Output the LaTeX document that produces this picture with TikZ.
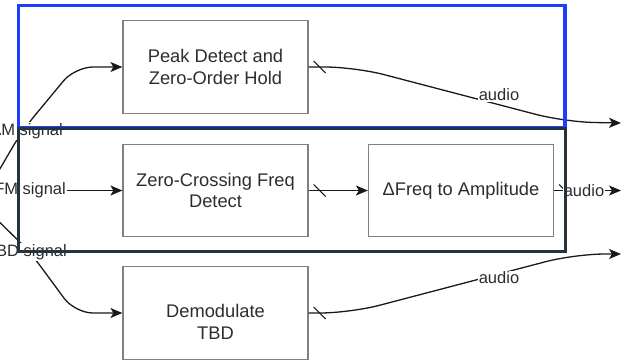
\documentclass[tikz,border=0pt]{standalone}
\usepackage{fontspec}
\setmainfont{Liberation Sans}
\usetikzlibrary{arrows.meta,calc}

\definecolor{frameblue}{RGB}{31,60,255}
\definecolor{frameslate}{RGB}{35,52,62}
\definecolor{boxgray}{RGB}{128,128,128}
\definecolor{inkgray}{RGB}{45,45,45}
\definecolor{wiregray}{RGB}{25,25,25}

\begin{document}
\begin{tikzpicture}[x=1bp,y=-1bp,
  blockbox/.style={draw=boxgray, line width=1.2bp, minimum width=185bp,
    minimum height=92.5bp, align=center, text=inkgray, inner sep=0pt,
    font=\fontsize{18.3bp}{21.5bp}\selectfont},
  blocktext/.style={align=center, text=inkgray, inner sep=0pt,
    font=\fontsize{18.3bp}{21.5bp}\selectfont},
  wire/.style={draw=wiregray, line width=1.3bp},
  arrowwire/.style={wire, -{Stealth[length=12bp,width=10bp,inset=3bp]}},
  siglabel/.style={fill=white, text=inkgray, inner sep=1bp,
    font=\fontsize{16.5bp}{18bp}\selectfont},
  busmark/.style={draw=wiregray, line width=1bp},
  groupframe/.style={line width=3.4bp, inner sep=0pt},
]
\useasboundingbox (0,0) rectangle (624,362);
\clip (0,0) rectangle (624,362);

% processing blocks
\node[blockbox] (peak)  at (215.5,67)    {Peak Detect and\\Zero-Order Hold};
\node[blockbox] (zcd)   at (215.5,190.5) {Zero-Crossing Freq\\Detect};
\node[blockbox] (dfa)   at (461,190.5)   {ΔFreq to Amplitude};
\node[blockbox] (demod) at (215.5,313)   {};
\node[blocktext] (demodtxt) at (215.5,322) {Demodulate\\TBD};

% shared input source, off the left edge
\coordinate (src) at (-20,203);

% input connectors
\draw[arrowwire, rounded corners=18bp] (src) -- (22,131) -- (75,67) -- (peak.west);
\draw[arrowwire] (src) |- (zcd.west);
\draw[arrowwire, rounded corners=18bp] (src) -- (30,252) -- (75,313) -- (demod.west);

\node[siglabel, anchor=east] (amlbl)  at (64,131) {AM signal};
\node[siglabel, anchor=east] (fmlbl)  at (67,190.5) {FM signal};
\node[siglabel, anchor=east] (tbdlbl) at (68,252) {TBD signal};

% output connectors
\coordinate (out1) at (621,123);
\coordinate (out2) at (621,190.5);
\coordinate (out3) at (621,254);

\draw[arrowwire, rounded corners=30bp] (peak.east) -- (355,67) -- (565,122) -- (out1);
\draw[arrowwire] (zcd.east) -- (dfa.west);
\draw[arrowwire] (dfa.east) -- (out2);
\draw[arrowwire, rounded corners=30bp] (demod.east) -- (350,313) -- (575,254) -- (out3);

% bus slashes at the block outputs
\foreach \blk in {peak,zcd,dfa,demod}
  \draw[busmark] ($(\blk.east)+(5,-6)$) -- ($(\blk.east)+(17,6)$);

\node[siglabel] (aud1) at (499,95)    {audio};
\node[siglabel] (aud2) at (584,190.5) {audio};
\node[siglabel] (aud3) at (499,278)   {audio};

% grouping frames
\node[groupframe, draw=frameblue, minimum width=546.5bp, minimum height=122.5bp]
  (amgroup) at (291.75,66.75) {};
\node[groupframe, draw=frameslate, minimum width=547bp, minimum height=123bp]
  (fmgroup) at (292,190) {};
\end{tikzpicture}
\end{document}
